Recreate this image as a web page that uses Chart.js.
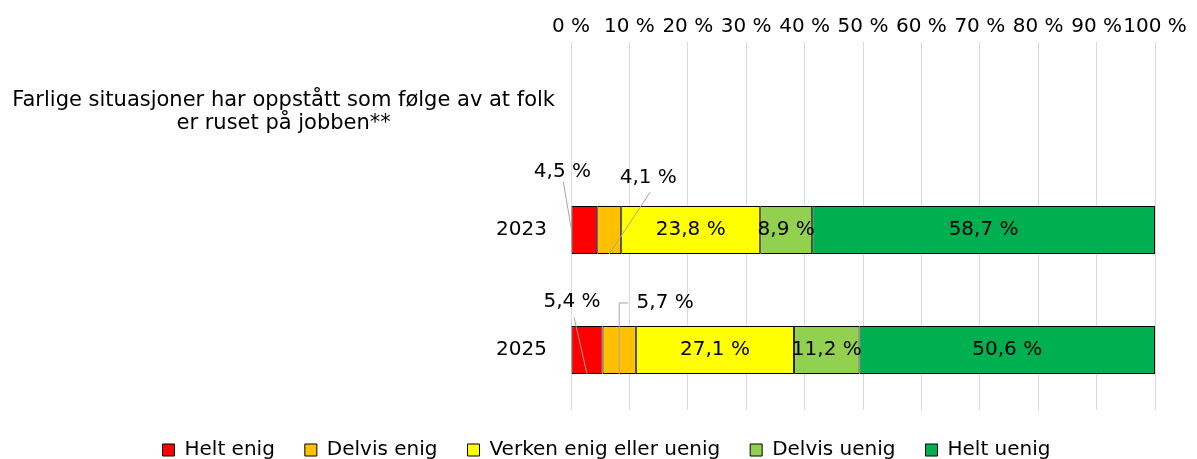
<!DOCTYPE html>
<html>
<head>
<meta charset="utf-8">
<script src="https://cdn.jsdelivr.net/npm/chart.js@4.4.1/dist/chart.umd.min.js"></script>
<style>
  html, body { margin: 0; padding: 0; background: #fff; }
</style>
</head>
<body>
<canvas id="surveyChart" width="1197" height="459"></canvas>
<script>
// data
const categories = [
    ['Farlige situasjoner har oppstått som følge av at folk', 'er ruset på jobben**'],
    '2023',
    '2025'
];
const seriesNames = ['Helt enig', 'Delvis enig', 'Verken enig eller uenig', 'Delvis uenig', 'Helt uenig'];
const heltEnig = [null, 4.5, 5.4];
const delvisEnig = [null, 4.1, 5.7];
const verkenEnig = [null, 23.8, 27.1];
const delvisUenig = [null, 8.9, 11.2];
const heltUenig = [null, 58.7, 50.6];
const xTicks = [0, 10, 20, 30, 40, 50, 60, 70, 80, 90, 100];

const seriesValues = [heltEnig, delvisEnig, verkenEnig, delvisUenig, heltUenig];
const seriesColors = ['#FF0000', '#FFC000', '#FFFF00', '#92D050', '#00B050'];

// small segments get their label outside, with a leader line
// key "dataset,index" -> label offset from segment centre, and line path
const callouts = {
    '0,1': { dx: -22, dy: -58, line: function (s) { return [[s.cx - 21, s.cy - 48], [s.left, s.cy]]; } },
    '1,1': { dx: 39, dy: -52, line: function (s) { return [[s.cx + 41, s.cy - 38], [s.cx, s.bottom]]; } },
    '0,2': { dx: -15, dy: -48, line: function (s) { return [[s.cx - 13, s.cy - 33], [s.cx, s.bottom]]; } },
    '1,2': { dx: 46, dy: -47, line: function (s) { return [[s.cx + 9, s.cy - 47], [s.cx, s.cy - 47], [s.cx, s.bottom]]; } }
};

const FONT = '"DejaVu Sans", Verdana, sans-serif';
Chart.defaults.font.family = FONT;
Chart.defaults.font.size = 20;
Chart.defaults.color = '#000';

function fmt(v) {
    return v.toFixed(1).replace('.', ',') + ' %';
}

const labelPlugin = {
    id: 'segmentLabels',
    afterDatasetsDraw(chart) {
        const ctx = chart.ctx;
        ctx.save();
        ctx.font = '20px ' + FONT;
        ctx.fillStyle = '#000';
        ctx.textAlign = 'center';
        ctx.textBaseline = 'middle';
        chart.data.datasets.forEach(function (ds, di) {
            const meta = chart.getDatasetMeta(di);
            meta.data.forEach(function (bar, i) {
                const v = ds.data[i];
                if (v === null || v === undefined) return;
                const left = Math.min(bar.x, bar.base);
                const right = Math.max(bar.x, bar.base);
                const seg = {
                    left: left, right: right,
                    cx: (left + right) / 2, cy: bar.y,
                    top: bar.y - bar.height / 2, bottom: bar.y + bar.height / 2
                };
                const c = callouts[di + ',' + i];
                if (c) {
                    const pts = c.line(seg);
                    ctx.strokeStyle = '#a6a6a6';
                    ctx.lineWidth = 1;
                    ctx.beginPath();
                    ctx.moveTo(pts[0][0], pts[0][1]);
                    for (let k = 1; k < pts.length; k++) ctx.lineTo(pts[k][0], pts[k][1]);
                    ctx.stroke();
                    ctx.fillText(fmt(v), seg.cx + c.dx, seg.cy + c.dy);
                } else {
                    ctx.fillText(fmt(v), seg.cx, seg.cy);
                }
            });
        });
        // multi-line heading category, lines centred on each other
        ctx.font = '21px ' + FONT;
        const yScale = chart.scales.y;
        const head = categories[0];
        const yc = yScale.getPixelForValue(0) + 2;
        const w = Math.max.apply(null, head.map(function (t) { return ctx.measureText(t).width; }));
        const xc = yScale.right - 16 - w / 2;
        head.forEach(function (t, k) {
            ctx.fillText(t, xc, yc + (k - (head.length - 1) / 2) * 23);
        });
        ctx.restore();
    }
};

document.addEventListener("DOMContentLoaded", function () {
    const ctx = document.getElementById('surveyChart').getContext('2d');
    new Chart(ctx, {
        type: 'bar',
        data: {
            labels: categories,
            datasets: seriesNames.map(function (name, k) {
                return {
                    label: name,
                    data: seriesValues[k],
                    backgroundColor: seriesColors[k],
                    borderColor: '#000',
                    borderWidth: 1,
                    borderSkipped: false,
                    categoryPercentage: 0.8,
                    barPercentage: 0.5
                };
            })
        },
        options: {
            indexAxis: 'y',
            responsive: false,
            animation: false,
            layout: { padding: { left: 58, right: 42, top: 0, bottom: -11 } },
            scales: {
                x: {
                    position: 'top',
                    stacked: true,
                    min: 0,
                    max: 100,
                    afterBuildTicks: function (scale) {
                        scale.ticks = xTicks.map(function (v) { return { value: v }; });
                    },
                    afterFit: function (scale) { scale.height = 50; },
                    ticks: {
                        autoSkip: false,
                        maxRotation: 0,
                        padding: 3,
                        callback: function (v) { return v + ' %'; }
                    },
                    grid: { color: '#d9d9d9', tickLength: 8, tickColor: '#d9d9d9' },
                    border: { display: false }
                },
                y: {
                    stacked: true,
                    afterFit: function (scale) { scale.width = 571 - 58; },
                    ticks: {
                        padding: 16,
                        callback: function (v, i) { return i === 0 ? '' : categories[i]; }
                    },
                    grid: { display: false },
                    border: { display: false }
                }
            },
            plugins: {
                legend: {
                    position: 'bottom',
                    labels: {
                        boxWidth: 12,
                        boxHeight: 12,
                        padding: 30,
                        font: { size: 20 }
                    }
                },
                tooltip: { enabled: false }
            }
        },
        plugins: [labelPlugin]
    });
});
</script>
</body>
</html>
